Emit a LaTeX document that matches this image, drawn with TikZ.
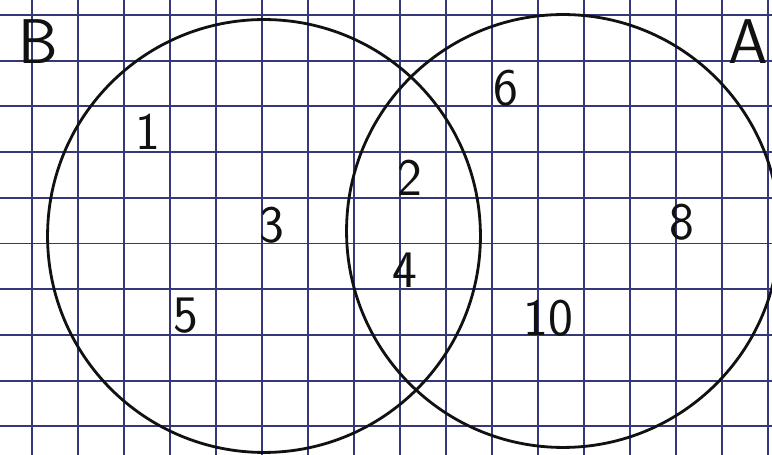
\documentclass[tikz,border=0pt]{standalone}
\usepackage{tikz}
\usetikzlibrary{positioning}
\definecolor{gridblue}{HTML}{343878}
\definecolor{ink}{HTML}{111111}

\begin{document}
\begin{tikzpicture}[
  x=0.02cm, y=-0.02cm,
  font=\sffamily,
  gridline/.style={gridblue, line width=1.1pt},
  set/.style={circle, draw=ink, line width=1.6pt, inner sep=0pt, outer sep=0pt},
  num/.style={ink, font=\sffamily\fontsize{30}{30}\selectfont},
  setname/.style={ink, font=\sffamily\fontsize{36}{36}\selectfont}
]
\useasboundingbox (0,0) rectangle (772,455);
\fill[white] (0,0) rectangle (772,455);

% squared paper
\foreach \i in {0,...,16}
  \draw[gridline] (32+46*\i,0) -- (32+46*\i,455);
\foreach \j in {0,...,9}
  \draw[gridline] (0,15+45.7*\j) -- (772,15+45.7*\j);

% the two sets
\node[set, minimum size=8.66cm] (setB) at (264,236) {};
\node[set, minimum size=8.66cm] (setA) at (563,231) {};

\node[setname] (nameB) at (38,42) {B};
\node[setname] (nameA) at (748,42) {A};

% only B
\node[num] (n1) at (148,132) {1};
\node[num] (n3) at (272,225) {3};
\node[num] (n5) at (186,316) {5};
% both
\node[num] (n2) at (410,178) {2};
\node[num] (n4) at (405,270) {4};
% only A
\node[num] (n6) at (506,88) {6};
\node[num] (n8) at (682,222) {8};
\node[num] (n10) at (548,318) {10};
\end{tikzpicture}
\end{document}
